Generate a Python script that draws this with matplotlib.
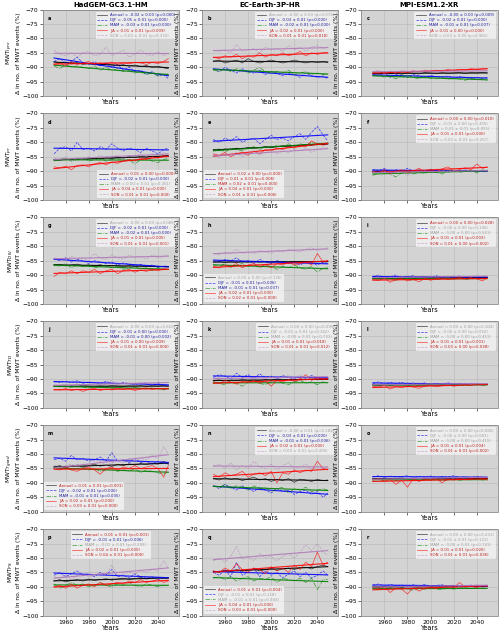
import numpy as np
import matplotlib.pyplot as plt

YEARS = [1950, 1955, 1960, 1965, 1970, 1975, 1980, 1985, 1990, 1995, 2000,
         2005, 2010, 2015, 2020, 2025, 2030, 2035, 2040, 2045, 2049]
MODELS = ["HadGEM-GC3.1-HM", "EC-Earth-3P-HR", "MPI-ESM1.2-XR"]
SEASONS = ["Annual", "DJF", "MAM", "JJA", "SON"]
INDICES = ["Ipro", "pr", "DIV", "TD", "Tgrad", "PS"]
LETTERS = "abcdefghijklmnopqr"

# each panel: rows = Annual, DJF, MAM, JJA, SON
P_A = [[-88, -88.5, -88.2, -88.8, -88.4, -89, -88.6, -88.9, -89.3, -88.7, -89.2, -89.5, -89.1, -89.6, -89.2, -89.8, -89.4, -90, -89.6, -90.2, -90.5],
       [-88, -87, -88.5, -88, -86.5, -88.5, -89, -88, -89.5, -88.5, -90, -89, -91, -90, -91.5, -91, -92.5, -91.5, -93, -92.5, -94],
       [-89.5, -90.5, -89, -90, -89.5, -90, -90.5, -89.5, -91, -90, -91, -90.5, -91.5, -91, -92, -91.5, -92.5, -92, -93, -92.5, -92],
       [-89, -88.5, -89.5, -88, -89, -88.5, -88, -89, -88.5, -88.8, -88.2, -89, -88.5, -88.8, -88.2, -88.5, -89, -88.3, -88.7, -88, -87],
       [-84, -85.5, -86, -85, -86.5, -85, -84.5, -86, -85.5, -83, -86, -85, -84, -86.5, -85.5, -84, -85.5, -86, -84.5, -86, -85]]
P_B = [[-88, -87.5, -88.5, -88, -87.5, -88.5, -87, -88, -88.5, -88, -87.5, -88, -88.5, -88, -87.5, -88, -88.5, -88, -88.3, -88, -88.3],
       [-90.5, -91.5, -90, -91, -92, -90.5, -91.5, -92, -91, -92.5, -91.5, -92, -93, -92, -92.5, -93.5, -92, -93, -93.5, -93, -94],
       [-91, -91.5, -90.5, -91.5, -90.5, -91, -92, -91, -90, -91.5, -92, -91.5, -92, -91, -92.5, -92, -91.5, -92.5, -92, -92.5, -92.5],
       [-86.5, -87, -86, -86.5, -85.5, -87, -86, -86.5, -85, -86.5, -85.5, -86, -85, -86, -85.5, -84.5, -86, -85, -85.5, -85, -85],
       [-84, -84.5, -84, -85, -82, -84.5, -84, -83.5, -85, -83, -84, -83.5, -84.5, -82.5, -84, -83, -84.5, -83, -82.5, -83.5, -83]]
P_C = [[-92, -92.3, -91.8, -92.2, -92, -92.4, -91.9, -92.1, -92.3, -91.8, -92, -92.2, -91.9, -92.1, -92, -91.8, -92.2, -91.9, -92, -91.8, -92]],
P_C = P_C[0] + [[-92.5, -93, -92, -93.5, -92.5, -93, -93.5, -92.5, -93, -93.5, -92.8, -93.2, -93.5, -93, -93.8, -93.2, -93.5, -94, -93.5, -93.8, -93.5],
                [-93, -92.5, -93.5, -93, -94, -93, -92.8, -93.5, -94, -93.2, -93.8, -94, -93.5, -94.2, -93.8, -94, -94.5, -93.8, -94.2, -94, -94.5],
                [-92, -91.5, -92.2, -91.8, -92, -91.5, -91.8, -91.2, -91.6, -91.2, -91.5, -91, -91.3, -90.8, -91.2, -90.8, -91, -90.5, -90.8, -90.5, -90.5],
                [-91.5, -91, -92, -91.2, -91.8, -91, -91.5, -91.2, -92, -91, -91.5, -91.8, -91.2, -91.5, -91, -91.6, -91.2, -91.5, -91, -91.3, -91]]
P_D = [[-86, -86.2, -85.8, -86, -85.5, -86, -85.8, -85.5, -85.8, -85.3, -85.6, -85.2, -85.5, -85, -85.3, -85, -85.2, -84.8, -85, -84.7, -84.5],
       [-84, -82, -81.5, -83, -80, -82.5, -82, -83, -81.5, -82.5, -80.5, -82, -83, -82, -82.5, -83.5, -82, -83, -84, -82.5, -82],
       [-86.5, -86, -85.5, -86.5, -86, -85.5, -86.5, -86, -85.5, -86.5, -86, -85.5, -86.5, -86, -87.5, -86, -85.5, -86.5, -87, -86, -85.5],
       [-88.5, -88.8, -88.3, -89.5, -88, -87.8, -88.5, -87.5, -87, -87.8, -86.8, -87.3, -86.5, -86, -86.5, -85.5, -86, -85, -85.5, -84.5, -85],
       [-85.5, -86, -85, -86.5, -85.5, -86, -85, -85.5, -84.5, -85.5, -85, -84.5, -85.5, -84.5, -85, -84, -85, -84, -84.5, -83.5, -84]]
P_E = [[-82.5, -82.8, -82.3, -82.5, -82, -82.3, -81.8, -82, -81.8, -81.5, -81.8, -81.5, -81.2, -81.5, -81, -81.2, -80.8, -81, -80.5, -80.8, -80.5],
       [-79, -80, -78.5, -79.5, -78, -80, -79, -78.5, -80.5, -79, -77.5, -79, -78.5, -79.5, -78, -77, -79, -76.5, -74.5, -77.5, -79.5],
       [-83, -82, -83.5, -82, -82.5, -83, -82, -81.5, -82.5, -81.5, -82, -81, -81.5, -80.5, -81.5, -80.5, -81, -80, -81, -80.5, -80.5],
       [-84, -84.5, -83.5, -85, -84, -83.5, -84.5, -83, -84, -82.5, -83, -82, -82.5, -81.5, -82, -81, -81.5, -79.5, -80.5, -81, -80.5],
       [-84, -85.5, -84, -84.5, -83.5, -85, -84, -83, -84.5, -83.5, -82.5, -84, -83, -83.5, -82.5, -83, -82, -83.5, -82.5, -82, -82]]
P_F = [[-90, -90.2, -89.8, -90, -90.1, -89.9, -90, -90.1, -89.8, -90, -89.9, -90, -89.8, -90, -89.9, -89.8, -90, -89.7, -89.9, -89.8, -89.7],
       [-89.5, -90, -89, -90.5, -89.5, -90, -89, -90, -89.5, -90, -89.3, -90, -89.5, -90.3, -89.6, -90, -89.5, -90.2, -89.8, -90, -90.3],
       [-91.5, -90.5, -90, -91, -92, -90.5, -90, -91, -90.3, -90.8, -89.8, -90.5, -91, -90, -89.5, -90.5, -90, -89.8, -90.6, -89.5, -90],
       [-90, -90.5, -89.5, -90.8, -90, -89.5, -90.5, -90, -89, -90.2, -89.5, -90.3, -89.2, -88.5, -89.8, -89.5, -88.8, -89.5, -87.5, -89, -88.5],
       [-90, -90.5, -90, -91, -90.3, -90, -91.5, -90.2, -90, -89.8, -90.4, -90, -89.7, -90.2, -89.8, -90, -89.5, -90, -89.8, -89.6, -90]]
P_G = [[-86.5, -86.3, -86.8, -86.5, -86.2, -86.7, -86.5, -86.8, -86.4, -86.9, -86.6, -86.8, -87, -86.7, -87, -86.8, -87.1, -86.9, -87.2, -87, -87]],
P_G = P_G[0] + [[-84.5, -85, -84, -85.5, -84.5, -85, -86, -85, -85.5, -86, -85.5, -86.5, -85.8, -86.2, -86.8, -86.3, -87, -86.5, -87.3, -86.8, -87]],
P_G = P_G[0] + [[-86.5, -87, -86, -87.5, -86.5, -87, -86.5, -87.5, -87, -86.5, -87.5, -87, -88, -87.5, -87, -88, -87.5, -88.5, -87.5, -88, -88],
                [-90.5, -89, -89.5, -88.5, -89.5, -88.5, -89, -88, -89.5, -88.5, -88, -89.5, -88.5, -88, -89, -88.3, -88.7, -88, -88.5, -87.8, -88],
                [-84, -84.5, -85, -83.5, -84.5, -84, -85, -82.5, -84, -84.5, -83, -84, -84.5, -83, -84, -83.5, -84.5, -83, -84, -83.5, -83]]
P_H = [[-85.5, -85.3, -85.7, -85.4, -85.6, -85.3, -85.5, -85.2, -85.5, -85.3, -85.6, -85.2, -85.4, -85.5, -85.2, -85.4, -85.3, -85.5, -85.2, -85.4, -85.3],
       [-85, -85.5, -84.5, -85, -84, -85.5, -85, -86, -84.5, -85.5, -86, -85, -85.5, -86, -85.5, -86.5, -85.5, -86, -86.5, -85.5, -86],
       [-86.5, -87, -86, -87.5, -86.5, -86, -87, -86.5, -87.5, -86.5, -87, -88, -87, -87.5, -86.5, -87.5, -88, -87, -89, -87.5, -87.5],
       [-87, -87.5, -86.5, -87, -86, -87.5, -86.5, -86, -87, -86.5, -87.5, -86, -86.5, -85.5, -86.5, -86, -85.5, -86.5, -82.5, -85.5, -85],
       [-82.5, -83, -82, -82.5, -81, -82.5, -82, -82.5, -81.5, -82, -82.5, -81.5, -82, -81, -81.5, -82, -81, -80.5, -81.5, -81, -80.5]]
P_I = [[-91, -91.2, -90.9, -91.1, -91, -91.2, -90.9, -91.1, -91, -90.9, -91.1, -90.8, -91, -90.9, -91, -90.8, -91, -90.9, -90.8, -91, -90.8],
       [-90.5, -90, -91, -90.5, -90, -91, -90.5, -90.2, -91, -90.5, -90.8, -90.2, -91, -90.5, -90.7, -90.3, -91, -90.5, -90.8, -90.5, -90.6],
       [-91, -91.5, -90.8, -91.2, -91.8, -91, -91.3, -91.8, -91, -91.5, -91, -91.6, -91.2, -91, -91.4, -91, -91.6, -91.2, -91, -91.3, -91],
       [-91.5, -91.8, -91.2, -92.5, -91.5, -91.2, -92, -91.5, -92.3, -91.2, -91.8, -91.3, -91, -91.5, -91.2, -90.8, -91.2, -90.9, -91.3, -92, -91],
       [-91, -90.5, -91.2, -90.6, -91, -90.5, -91, -90.4, -90.8, -91, -90.3, -90.8, -90.5, -90.8, -90.2, -90.6, -90.4, -90.7, -90.2, -90.5, -90.3]]
P_J = [[-92.5, -92.3, -92.7, -92.4, -92.6, -92.3, -92.5, -92.7, -92.4, -92.6, -92.3, -92.5, -92.6, -92.4, -92.5, -92.3, -92.6, -92.4, -92.5, -92.3, -92.5],
       [-91, -91.2, -90.8, -91.3, -90.6, -91.5, -91, -91.3, -91.6, -90.8, -91.5, -91.8, -91.2, -91.6, -92, -91.4, -91.8, -92.2, -91.6, -92, -92.3],
       [-92.5, -92.8, -92.3, -93, -92.5, -92.8, -93.2, -92.6, -93, -92.7, -93.3, -92.8, -93, -93.4, -92.8, -93.2, -93.5, -93, -93.4, -93.8, -93.2],
       [-93.5, -93.8, -93.3, -94, -93.5, -94.3, -93.6, -93.2, -94, -93.5, -93.8, -93.2, -93.6, -93.3, -94, -93.4, -93.1, -93.6, -93.2, -93.5, -93.2],
       [-92, -92.3, -91.8, -92.5, -91.6, -92.2, -91.9, -92.3, -91.5, -92, -90.5, -92, -91.7, -91.3, -92, -91.5, -91.2, -91.8, -91, -91.4, -91]]
P_K = [[-90.5, -90.3, -90.7, -90.4, -90.6, -90.2, -90.5, -90.3, -90.6, -90.2, -90.4, -90.1, -90.4, -90.2, -90.3, -90, -90.2, -90.1, -90, -90.2, -90]],
P_K = P_K[0] + [[-89.5, -88.5, -89, -90, -88, -89.5, -88.5, -89.8, -88.2, -89.5, -89, -90, -88.8, -89.5, -90, -89.2, -89.8, -88.8, -89.5, -90, -89.5],
                [-91, -91.5, -92, -90.5, -91.5, -92.5, -91, -90.5, -91.5, -92, -91, -90.5, -91.5, -92, -91, -90.5, -91.5, -91, -92, -91, -91.5],
                [-91, -91.5, -90.5, -91, -91.8, -90.8, -91.2, -90.5, -91.5, -90.6, -92.5, -90.5, -91, -90.2, -90.8, -90, -88.5, -90.5, -89.5, -90.2, -90],
                [-90, -89.5, -90.3, -89.2, -90, -89.8, -89.3, -90.2, -89.5, -89.8, -89, -90, -89.5, -88.8, -89.6, -88.5, -89.5, -89.2, -89.8, -89, -89.5]]
P_L = [[-92, -92.2, -91.9, -92.1, -92, -91.8, -92.1, -91.9, -92, -92.1, -91.9, -92, -91.8, -92, -91.9, -92.1, -91.9, -92, -91.8, -91.9, -91.8],
       [-91.5, -91, -91.8, -91.2, -91.6, -91.2, -91.8, -91.4, -91.8, -91.3, -92, -91.5, -91.8, -91.3, -91.9, -91.5, -92, -91.6, -91.8, -92, -91.8],
       [-92, -92.4, -91.8, -92.3, -92, -91.7, -92.2, -91.9, -92.3, -92, -91.6, -92.1, -92.4, -91.8, -92.2, -91.9, -92.3, -92, -91.8, -92.2, -92],
       [-92.5, -92.8, -92.2, -93.5, -92.6, -93, -92.4, -92.8, -93.2, -92.5, -92.2, -92.7, -92.3, -92, -92.5, -92.2, -91.8, -92.3, -91.5, -92, -91.8],
       [-92, -91.6, -92.2, -91.8, -92.3, -91.7, -92.1, -91.6, -92, -91.8, -91.5, -92, -91.6, -91.9, -91.5, -91.8, -91.4, -91.9, -91.5, -91.7, -91.5]]
P_M = [[-84.5, -84, -84.8, -84.2, -83.8, -84.5, -84, -83.5, -84.2, -83.8, -84.3, -83.6, -84, -83.4, -83.8, -83.3, -83.7, -83.2, -83.5, -82.5, -83.5],
       [-82, -81.5, -82.5, -80.5, -82, -81.5, -82.5, -82, -81, -82.5, -79.5, -82.5, -82, -83, -81.5, -83, -82.5, -83.5, -82.5, -83, -83.5],
       [-85, -85.5, -84.5, -85.5, -85, -84.5, -85.5, -85, -86, -85.5, -85, -86, -85.5, -86, -85, -86.5, -85.5, -86, -86.5, -87, -86],
       [-85, -85.5, -84.5, -85.5, -86, -85, -84.5, -85.5, -87, -85, -84.5, -85.5, -84.5, -85, -84, -85, -84.5, -84, -85, -88, -84],
       [-84, -84.5, -84, -83.5, -84.5, -83.5, -84, -83, -82.5, -84, -83, -82.5, -83, -81.5, -82.5, -81.5, -82, -80.5, -81.5, -77.5, -80]]
P_N = [[-88.5, -89, -88.2, -88.8, -88.4, -89.2, -88.6, -88, -89, -88.5, -89.5, -88.8, -89.2, -88.5, -89.8, -88.7, -89, -89.5, -88.8, -89.2, -89]],
P_N = P_N[0] + [[-91, -92, -90.5, -91.5, -92.5, -91, -92, -93, -91.5, -92.5, -93.5, -92, -93, -92.5, -94, -93, -92.5, -94, -93, -95, -93.5],
                [-91, -91.5, -90.5, -92, -91, -91.5, -92.5, -91, -92, -91.5, -93, -92, -91.5, -93.5, -92, -92.5, -91.5, -93, -92.5, -92, -92.5],
                [-87, -88, -86.5, -87.5, -87, -86, -88, -87, -86.5, -87.5, -86, -90, -86.5, -87, -85.5, -86.5, -85.5, -86, -82.5, -85, -85.5],
                [-84.5, -83.5, -85, -83, -85.5, -84, -85, -82.5, -84.5, -85, -83.5, -85.5, -84, -83, -85, -84.5, -83.5, -85.5, -84, -85, -84.5]]
P_O = [[-88.5, -88.7, -88.4, -88.6, -88.5, -88.3, -88.6, -88.4, -88.5, -88.7, -88.4, -88.5, -88.3, -88.5, -88.4, -88.6, -88.3, -88.5, -88.4, -88.5, -88.4],
       [-88, -87.5, -88.2, -87.6, -88, -87.8, -87.5, -88.3, -87.7, -88, -87.6, -88.2, -87.8, -88, -87.5, -88.1, -87.9, -88.2, -87.8, -88, -88.2],
       [-89, -88.5, -89.2, -88.8, -89.3, -88.6, -89, -88.7, -89.2, -88.8, -89, -88.6, -89.3, -88.9, -88.6, -89.1, -88.8, -89, -88.7, -89, -88.8],
       [-89, -88.5, -89.5, -88.8, -90.5, -89, -91.5, -88.5, -89.5, -88.8, -89, -88.5, -90, -88.6, -89, -88.3, -89, -88.5, -88, -88.6, -89],
       [-88.5, -89, -88.2, -88.8, -88.4, -89, -88.5, -88.2, -88.8, -88.3, -88.6, -88.2, -88.5, -88, -88.4, -88.1, -88.5, -88, -88.3, -87.8, -88]]
P_P = [[-88, -87.5, -88.3, -87.8, -87.5, -88, -87.3, -87.8, -87.5, -87.2, -87.7, -87.3, -87, -87.5, -87.2, -86.8, -87.3, -87, -86.8, -87.2, -87]],
P_P = P_P[0] + [[-86, -85, -86.5, -85.5, -84.5, -86, -85.5, -86.5, -85, -86, -84, -86.5, -86, -87, -85.5, -86.5, -87, -86.5, -87.5, -86.8, -87]],
P_P = P_P[0] + [[-89, -90.5, -89.5, -88.5, -89.5, -89, -90, -89.5, -88.5, -89.5, -90, -89, -89.5, -88.5, -89.5, -90, -89, -89.5, -90, -89.5, -89.5],
                [-90, -89.5, -90.5, -89, -90.5, -89.5, -89, -90, -88.5, -89.5, -89, -88.5, -89, -88, -88.5, -87.5, -88.5, -88, -87.5, -88.5, -88],
                [-86.5, -87, -86, -87.5, -86, -85.5, -86.5, -86, -85.5, -86, -82.5, -86, -85.5, -85, -85.5, -84.5, -85, -84, -84.5, -81, -83.5]]
P_Q = [[-84.5, -85, -84.2, -84.8, -84, -84.6, -84.2, -83.8, -84.5, -84, -83.6, -84.3, -83.8, -83.5, -84, -83.4, -83.2, -83.8, -83, -82.5, -83]],
P_Q = P_Q[0] + [[-85, -86, -84, -86.5, -81.5, -86, -85, -83.5, -86.5, -84.5, -86, -85, -87, -85.5, -84.5, -86.5, -85, -87, -86, -84.5, -86]],
P_Q = P_Q[0] + [[-87, -86.5, -87.5, -86.5, -88, -87, -86.5, -88, -87, -87.5, -86.5, -88.5, -87, -87.5, -88, -87, -88.5, -87, -91, -87.5, -87.5],
                [-84.5, -85, -83.5, -84.5, -82, -84, -85, -83.5, -84, -85.5, -83, -84.5, -83.5, -85, -82.5, -84, -81.5, -83, -78, -82.5, -81.5],
                [-81, -80, -81.5, -79.5, -76, -80.5, -79.5, -81, -78.5, -80, -79.5, -81, -79.5, -78.5, -80, -78, -75.5, -77.5, -75, -78, -79]]
P_R = [[-90, -90.2, -89.8, -90.1, -89.9, -90.2, -89.8, -90, -90.1, -89.9, -90, -89.8, -90.1, -89.9, -90, -89.8, -90, -89.9, -89.8, -90, -89.9],
       [-89.5, -89, -89.8, -89.2, -89.6, -89.4, -89.8, -89.3, -89.7, -89.2, -89.8, -89.5, -89.3, -89.8, -89.5, -89.9, -89.6, -89.4, -90, -89.7, -89.8],
       [-90.5, -91, -90.3, -90.8, -90.5, -90.2, -90.8, -91.2, -90.5, -90.8, -90.3, -90.7, -91, -90.4, -90.8, -90.5, -90.3, -90.7, -90.4, -90.6, -90.5],
       [-90.2, -90.5, -90, -92, -90.4, -90.8, -92.5, -90.3, -91.5, -90.5, -90.2, -90.6, -90, -89.5, -90.3, -88.5, -90, -89.8, -90.2, -89.6, -89.8],
       [-90, -89.5, -90.3, -89.6, -90.2, -89.8, -90.5, -90, -89.7, -90.2, -89.5, -90, -89.6, -89.8, -89.3, -89.9, -89.4, -89.7, -89.2, -89.6, -89.3]]
PANELS = [P_A, P_B, P_C, P_D, P_E, P_F, P_G, P_H, P_I, P_J, P_K, P_L,
          P_M, P_N, P_O, P_P, P_Q, P_R]

# legend entries: (slope, err, p) per season, as printed in the reference
STATS = [
    [("-0.02", "0.00", "0.000"), ("-0.05", "0.01", "0.000"), ("-0.03", "0.01", "0.000"), ("0.01", "0.01", "0.039"), ("0.00", "0.01", "0.332")],
    [("-0.00", "0.00", "0.074"), ("-0.03", "0.01", "0.000"), ("-0.02", "0.01", "0.000"), ("0.02", "0.01", "0.000"), ("0.01", "0.01", "0.018")],
    [("-0.00", "0.00", "0.009"), ("-0.02", "0.01", "0.000"), ("-0.01", "0.01", "0.007"), ("0.01", "0.00", "0.000"), ("0.00", "0.00", "0.981")],
    [("0.01", "0.00", "0.000"), ("-0.02", "0.01", "0.000"), ("0.00", "0.01", "0.261"), ("0.04", "0.01", "0.000"), ("0.01", "0.01", "0.000")],
    [("0.02", "0.00", "0.000"), ("0.01", "0.01", "0.006"), ("0.02", "0.01", "0.000"), ("0.04", "0.01", "0.000"), ("0.01", "0.01", "0.006")],
    [("0.00", "0.00", "0.010"), ("-0.01", "0.00", "0.355"), ("0.01", "0.01", "0.055"), ("0.01", "0.01", "0.000"), ("0.00", "0.01", "0.267")],
    [("-0.00", "0.00", "0.065"), ("-0.02", "0.01", "0.000"), ("-0.02", "0.01", "0.000"), ("0.01", "0.01", "0.005"), ("0.01", "0.01", "0.001")],
    [("0.00", "0.00", "0.135"), ("-0.01", "0.01", "0.006"), ("-0.01", "0.01", "0.037"), ("0.02", "0.01", "0.000"), ("0.02", "0.01", "0.000")],
    [("0.00", "0.00", "0.028"), ("-0.00", "0.00", "0.136"), ("-0.00", "0.00", "0.541"), ("0.01", "0.01", "0.003"), ("0.01", "0.00", "0.002")],
    [("-0.00", "0.00", "0.610"), ("-0.01", "0.00", "0.000"), ("-0.01", "0.00", "0.002"), ("0.01", "0.00", "0.009"), ("0.01", "0.01", "0.000")],
    [("0.00", "0.00", "0.095"), ("-0.01", "0.01", "0.162"), ("-0.00", "0.01", "0.732"), ("0.01", "0.01", "0.018"), ("0.01", "0.01", "0.012")],
    [("0.00", "0.00", "0.104"), ("-0.00", "0.00", "0.062"), ("-0.00", "0.00", "0.451"), ("0.01", "0.01", "0.001"), ("0.00", "0.00", "0.038")],
    [("0.01", "0.01", "0.001"), ("-0.02", "0.01", "0.000"), ("-0.01", "0.01", "0.035"), ("0.02", "0.01", "0.000"), ("0.03", "0.01", "0.000")],
    [("-0.00", "0.01", "0.184"), ("-0.03", "0.01", "0.000"), ("-0.01", "0.01", "0.006"), ("0.02", "0.01", "0.000"), ("0.00", "0.01", "0.495")],
    [("0.00", "0.00", "0.060"), ("-0.00", "0.00", "0.081"), ("-0.00", "0.00", "0.415"), ("0.01", "0.01", "0.004"), ("0.01", "0.01", "0.002")],
    [("0.01", "0.01", "0.001"), ("-0.01", "0.01", "0.006"), ("-0.01", "0.01", "0.299"), ("0.02", "0.01", "0.000"), ("0.04", "0.01", "0.000")],
    [("0.01", "0.01", "0.004"), ("-0.01", "0.01", "0.118"), ("-0.01", "0.01", "0.383"), ("0.04", "0.01", "0.000"), ("0.03", "0.01", "0.000")],
    [("0.00", "0.00", "0.231"), ("-0.01", "0.01", "0.121"), ("-0.00", "0.01", "0.741"), ("0.01", "0.01", "0.026"), ("0.01", "0.01", "0.036")],
]
LEG_LOC = ["upper right", "upper right", "upper right", "lower right", "lower left", "upper right",
           "upper right", "lower left", "upper right", "upper right", "upper right", "upper right",
           "lower left", "upper right", "upper right", "upper center", "lower left", "upper right"]

# ─── styles ──────────────────────────────────────────────────────────────────
COLORS = ["black", "blue", "green", "red", "#b07ab8"]
STYLES = ["-", "--", "-.", "-", "--"]
ALPHAS = [0.75, 0.75, 0.75, 0.75, 0.6]

plt.rcParams["font.family"] = "DejaVu Sans"
fig, axes = plt.subplots(6, 3, figsize=(5.0, 6.38), dpi=100, sharex=True)
fig.subplots_adjust(left=0.085, right=0.995, top=0.985, bottom=0.035,
                    wspace=0.17, hspace=0.2)
x = np.array(YEARS)

for k, ax in enumerate(axes.flat):
    row, col = divmod(k, 3)
    data = PANELS[k]
    ax.set_facecolor("#d3d3d3")
    ax.grid(True, color="#b8b8b8", lw=0.4)
    ax.set_axisbelow(True)
    for s in range(5):
        y = np.array(data[s])
        ax.plot(x, y, color=COLORS[s], ls=STYLES[s], lw=0.5, alpha=ALPHAS[s],
                label=f"{SEASONS[s]} = {STATS[k][s][0]} ± {STATS[k][s][1]} (p={STATS[k][s][2]})")
        m, b = np.polyfit(x, y, 1)
        ax.plot(x, m * x + b, color=COLORS[s], ls="-", lw=0.8, alpha=0.9)
    leg = ax.legend(loc=LEG_LOC[k], fontsize=2.8, framealpha=0.6, handlelength=2.5,
                    borderpad=0.4, labelspacing=0.3, edgecolor="none")
    for s, t in enumerate(leg.get_texts()):
        p = float(STATS[k][s][2])
        if p >= 0.05:
            t.set_color("#a0a0a0")
        elif STATS[k][s][0].startswith("-"):
            t.set_color("#2020a0")
        else:
            t.set_color("#c02020")
    ax.set_ylim(-100, -70)
    ax.set_xlim(1940, 2058)
    ax.set_yticks([-100, -95, -90, -85, -80, -75, -70])
    ax.set_xticks([1960, 1980, 2000, 2020, 2040])
    ax.tick_params(labelsize=4.3, length=2, width=0.4, pad=1)
    for sp in ax.spines.values():
        sp.set_color("#888888")
        sp.set_linewidth(0.6)
    ax.text(0.04, 0.93, LETTERS[k], transform=ax.transAxes, fontsize=3.5,
            fontweight="bold", va="top")
    ax.set_xlabel("Years", fontsize=4.8, labelpad=0)
    if col == 0:
        ax.set_ylabel(f"MWT$_{{{INDICES[row]}}}$\nΔ in no. of MWT events (%)",
                      fontsize=4.3, labelpad=1)
    else:
        ax.set_ylabel("Δ in no. of MWT events (%)", fontsize=4.3, labelpad=1)
    if row == 0:
        ax.set_title(MODELS[col], fontsize=5, fontweight="bold", pad=2)
    if row == 5:
        ax.tick_params(labelbottom=True)

fig.savefig("out.png", dpi=100)
